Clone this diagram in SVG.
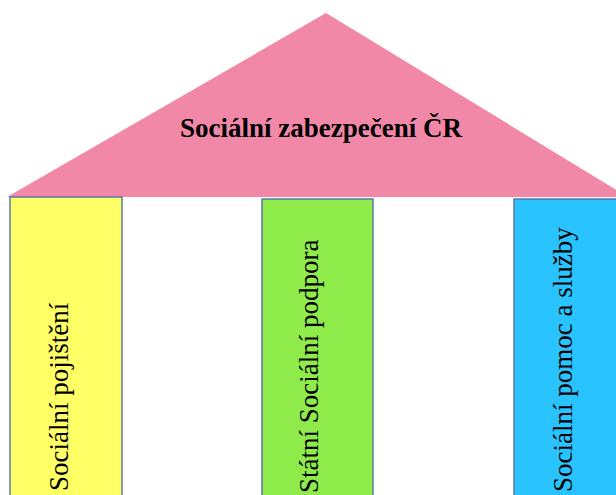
<svg xmlns="http://www.w3.org/2000/svg" width="616" height="495" viewBox="0 0 616 495">
<style>
.pillar{stroke:#5a78aa;stroke-width:1.5}
.lbl{font-family:"Liberation Serif","Times New Roman",serif;font-size:27px;fill:#000}
.title{font-family:"Liberation Serif","Times New Roman",serif;font-size:27px;font-weight:bold;fill:#000}
</style>
<rect width="616" height="495" fill="#fff"/>
<g id="roof">
<polygon points="326,13 7,197 628,197" fill="#f288a8"/>
<text class="title" x="321" y="137" text-anchor="middle">Sociální zabezpečení ČR</text>
</g>
<g id="connectors"></g>
<g id="pillar1">
<rect class="pillar" x="10" y="197" width="112" height="300" fill="#ffff66"/>
<text class="lbl" transform="translate(68,491) rotate(-90)">Sociální pojištění</text>
</g>
<g id="pillar2">
<rect class="pillar" x="262" y="199" width="111" height="298" fill="#8eeb4a"/>
<text class="lbl" transform="translate(318,493) rotate(-90)">Státní Sociální podpora</text>
</g>
<g id="pillar3">
<rect class="pillar" x="514" y="199" width="110" height="298" fill="#29c4ff"/>
<text class="lbl" transform="translate(572,492) rotate(-90)">Sociální pomoc a služby</text>
</g>
</svg>
